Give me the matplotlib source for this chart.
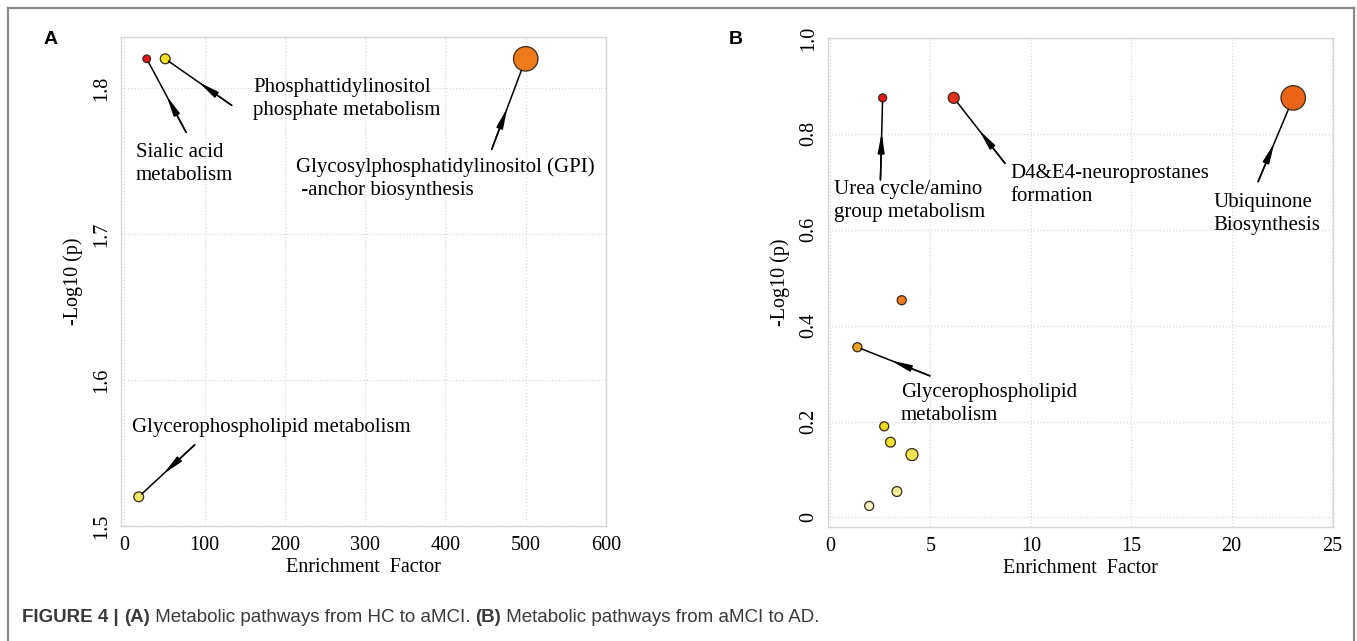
import matplotlib
matplotlib.use("Agg")
import matplotlib.pyplot as plt
from matplotlib.lines import Line2D

# panel A: HC -> aMCI
names_a = ["Sialic acid\nmetabolism",
           "Phosphattidylinositol\nphosphate metabolism",
           "Glycosylphosphatidylinositol (GPI)\n -anchor biosynthesis",
           "Glycerophospholipid metabolism"]
ef_a = [28, 51, 500, 18]
logp_a = [1.82, 1.82, 1.82, 1.52]
impact_a = [0.06, 0.10, 0.62, 0.10]
colors_a = ["#e8141c", "#f2e41e", "#ef7a1c", "#f0e868"]

# panel B: aMCI -> AD
names_b = ["Urea cycle/amino\ngroup metabolism", "D4&E4-neuroprostanes\nformation",
           "Ubiquinone\nBiosynthesis", "", "Glycerophospholipid\nmetabolism",
           "", "", "", "", ""]
ef_b = [2.62, 6.16, 23.07, 3.57, 1.36, 2.70, 3.01, 4.08, 3.33, 1.95]
logp_b = [0.875, 0.875, 0.875, 0.453, 0.355, 0.19, 0.157, 0.131, 0.054, 0.024]
impact_b = [0.066, 0.125, 0.62, 0.085, 0.085, 0.085, 0.10, 0.15, 0.10, 0.085]
colors_b = ["#e8141c", "#e53020", "#ec6418", "#ee7d1c", "#f0a424",
            "#efd81c", "#f0e030", "#f0e450", "#f2ee9a", "#f6f2c4"]

SERIF = "Liberation Serif"

# (tail offset, arrowhead distance from point, shrink at point, text offset) in points
ann_a = {0: ((28.4, -53.0), 30.4, 3, (-7.9, -76.0)),
         1: ((47.9, -33.5), 29.7, 3, (63.5, -29.0)),
         2: ((-24.5, -65.2), 38, 9, (-165.6, -86.5)),
         3: ((40.3, 37.4), 24.5, 3, (-5, 50.0))}
ann_b = {0: ((-1.6, -59.0), 25, 3, (-34.7, -74.5)),
         1: ((36.9, -47.1), 29.8, 4, (40.5, -63.0)),
         2: ((-25.3, -60.3), 35.3, 9, (-57.7, -83.5)),
         4: ((52.2, -20.6), 26.3, 3, (31.3, -41.0))}


def style_axes(ax):
    for s in ax.spines.values():
        s.set_color("#d6d6d6")
        s.set_linewidth(1)
    ax.grid(True, color="#dadada", linestyle=":", linewidth=0.9)
    ax.set_axisbelow(True)
    ax.tick_params(length=0, labelsize=14.5, pad=7)
    ax.tick_params(axis="y", labelrotation=90)
    for lab in ax.get_yticklabels():
        lab.set_va("center")
    for lab in ax.get_xticklabels() + ax.get_yticklabels():
        lab.set_family(SERIF)
    ax.set_xlabel("Enrichment  Factor", family=SERIF, fontsize=14.5, labelpad=2)
    ax.set_ylabel("-Log10 (p)", family=SERIF, fontsize=14.5, labelpad=7)


def annotate(ax, x, y, text, spec):
    tail, head_d, shrink, toff = spec
    ax.annotate("", xy=(x, y), xytext=tail, textcoords="offset points",
                arrowprops=dict(arrowstyle="-", color="black", lw=1.1,
                                shrinkA=0, shrinkB=shrink))
    ax.annotate("", xy=(x, y), xytext=tail, textcoords="offset points",
                arrowprops=dict(arrowstyle="-|>,head_length=1.2,head_width=0.2",
                                mutation_scale=10, color="black", lw=1.1,
                                shrinkA=0, shrinkB=head_d))
    ax.annotate(text, xy=(x, y), xytext=toff, textcoords="offset points",
                ha="left", va="center", family=SERIF, fontsize=15,
                linespacing=1.3)


fig = plt.figure(figsize=(13.57, 6.41), dpi=100)

ax1 = fig.add_axes([0.0892, 0.1794, 0.3574, 0.763])
ax1.scatter(ef_a, logp_a, s=[v * 500 for v in impact_a], c=colors_a,
            edgecolors="#3a2a1a", linewidths=0.9, zorder=3)
ax1.set_xlim(-4, 600)
ax1.set_ylim(1.5, 1.835)
ax1.set_xticks([0, 100, 200, 300, 400, 500, 600])
ax1.set_yticks([1.5, 1.6, 1.7, 1.8])
style_axes(ax1)
for i, spec in ann_a.items():
    annotate(ax1, ef_a[i], logp_a[i], names_a[i], spec)

ax2 = fig.add_axes([0.6102, 0.1778, 0.3721, 0.763])
ax2.scatter(ef_b, logp_b, s=[v * 500 for v in impact_b], c=colors_b,
            edgecolors="#3a2a1a", linewidths=0.9, zorder=3)
ax2.set_xlim(-0.1, 25.05)
ax2.set_ylim(-0.02, 1.0)
ax2.set_xticks([0, 5, 10, 15, 20, 25])
ax2.set_yticks([0, 0.2, 0.4, 0.6, 0.8, 1.0])
ax2.set_yticklabels(["0", "0.2", "0.4", "0.6", "0.8", "1.0"])
style_axes(ax2)
for i, spec in ann_b.items():
    annotate(ax2, ef_b[i], logp_b[i], names_b[i], spec)

# panel letters
fig.text(51 / 1357, 1 - 40 / 641, "A", family="Liberation Sans", weight="bold",
         fontsize=14, ha="center", va="center")
fig.text(736 / 1357, 1 - 39 / 641, "B", family="Liberation Sans", weight="bold",
         fontsize=14, ha="center", va="center")

# frame around the figure panel
frame_kw = dict(color="#8a8a8a", lw=1.6, transform=fig.transFigure)
fig.add_artist(Line2D([8 / 1357, 8 / 1357], [0, 1 - 8 / 641], **frame_kw))
fig.add_artist(Line2D([1354 / 1357, 1354 / 1357], [0, 1 - 8 / 641], **frame_kw))
fig.add_artist(Line2D([8 / 1357, 1354 / 1357], [1 - 8 / 641, 1 - 8 / 641], **frame_kw))

# caption, drawn piece by piece
cap_parts = [("FIGURE 4 | ", "bold"), ("(A)", "bold"),
             (" Metabolic pathways from HC to aMCI. ", "normal"),
             ("(B)", "bold"), (" Metabolic pathways from aMCI to AD.", "normal")]
renderer = fig.canvas.get_renderer()
x = 22
for txt, w in cap_parts:
    t = fig.text(x / 1357, 1 - 618 / 641, txt, family=["Liberation Sans Narrow", "Liberation Sans"],
                 weight=w, fontsize=13.5, color="#3a3a3a", ha="left", va="center")
    x += t.get_window_extent(renderer).width

fig.savefig("out.png", dpi=100)
